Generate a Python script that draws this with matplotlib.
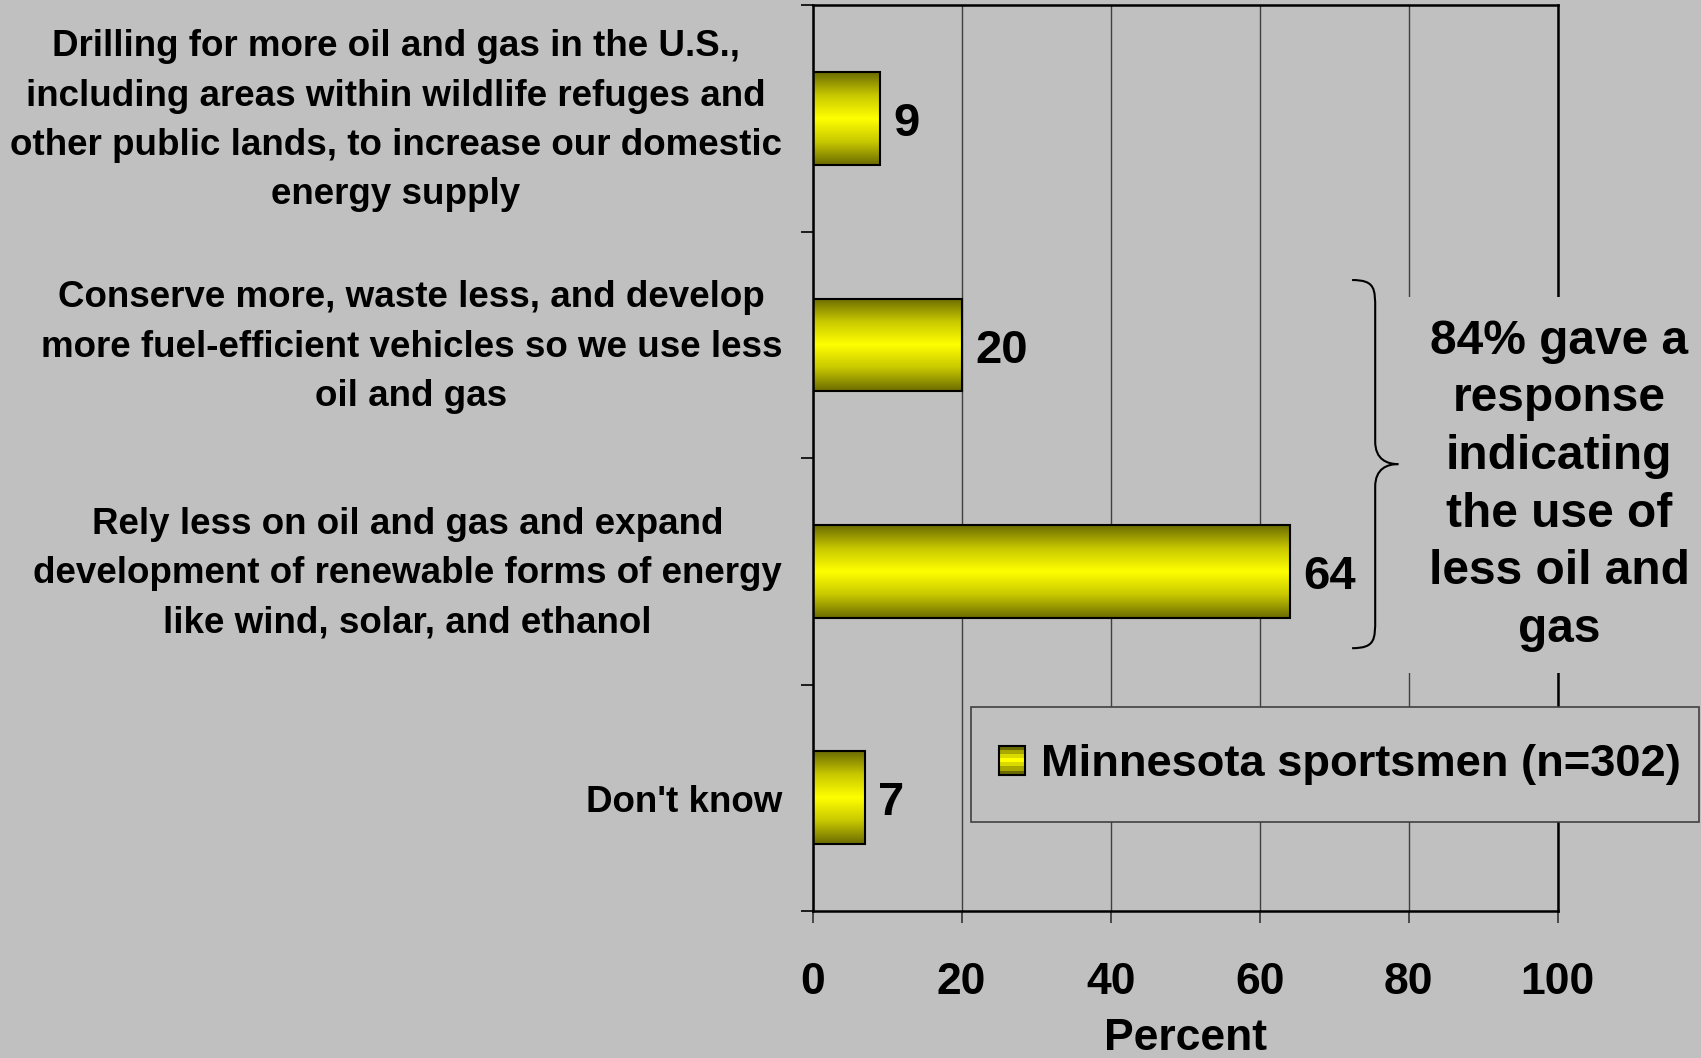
import numpy as np
import matplotlib.pyplot as plt
from matplotlib.colors import LinearSegmentedColormap
from matplotlib.patches import Rectangle, PathPatch
from matplotlib.path import Path
from matplotlib.legend_handler import HandlerBase

# dados
categorias = [
    "Drilling for more oil and gas in the U.S.,\nincluding areas within wildlife refuges and\nother public lands, to increase our domestic\nenergy supply",
    "Conserve more, waste less, and develop\nmore fuel-efficient vehicles so we use less\noil and gas",
    "Rely less on oil and gas and expand\ndevelopment of renewable forms of energy\nlike wind, solar, and ethanol",
    "Don't know",
]
valores = [9, 20, 64, 7]
xticks = [0, 20, 40, 60, 80, 100]
serie = "Minnesota sportsmen (n=302)"
nota = "84% gave a\nresponse\nindicating\nthe use of\nless oil and\ngas"

FUNDO = "#c0c0c0"
FONTE = "Liberation Sans"
cmap_barra = LinearSegmentedColormap.from_list(
    "amarelo", ["#6b6b00", "#c8c800", "#ffff00", "#c8c800", "#6b6b00"])


class HandlerGradiente(HandlerBase):
    """Quadradinho da legenda com faixas no mesmo degradê das barras."""
    def create_artists(self, legend, orig_handle, xdescent, ydescent,
                       width, height, fontsize, trans):
        artistas = []
        n = 7
        for i in range(n):
            cor = cmap_barra(i / (n - 1))
            artistas.append(Rectangle((-xdescent, -ydescent + i * height / n),
                                      width, height / n, facecolor=cor,
                                      edgecolor="none", transform=trans))
        artistas.append(Rectangle((-xdescent, -ydescent), width, height,
                                  facecolor="none", edgecolor="black",
                                  linewidth=1.5, transform=trans))
        return artistas


fig = plt.figure(figsize=(17.01, 10.58), dpi=100, facecolor=FUNDO)
ax = fig.add_axes([0.4777, 0.1389, 0.4381, 0.856], facecolor=FUNDO)

y = np.arange(len(categorias))
altura = 0.41
barras = ax.barh(y, valores, height=altura, facecolor="none",
                 edgecolor="black", linewidth=1.5, zorder=3)

# degradê vertical dentro de cada barra
grad = np.linspace(0, 1, 256).reshape(-1, 1)
for b in barras:
    x0, y0 = b.get_x(), b.get_y()
    w, h = b.get_width(), b.get_height()
    img = ax.imshow(grad, cmap=cmap_barra, aspect="auto",
                    extent=[x0, x0 + w, y0 + h, y0], zorder=2)
    img.set_clip_path(b)

for yi, v in zip(y, valores):
    ax.text(v + 1.8, yi + 0.025, str(v), va="center", ha="left", fontsize=34,
            fontweight="bold", family=FONTE, zorder=4)

# rótulos das categorias como texto (bloco centrado, alinhado à direita)
for yi, cat in zip(y, categorias):
    desloc = 0.01 if "\n" in cat else 0.02
    ax.text(-0.041, yi + desloc, cat, transform=ax.get_yaxis_transform(),
            ha="right", va="center", multialignment="center",
            fontsize=26.5, fontweight="bold", family=FONTE, linespacing=1.53)

ax.set_xlim(0, 100)
ax.set_ylim(len(categorias) - 0.5, -0.5)
ax.set_xticks(xticks)
ax.set_xticklabels([str(t) for t in xticks], fontsize=32, fontweight="bold",
                   family=FONTE)
ax.set_yticks(np.arange(len(categorias) + 1) - 0.5)
ax.set_yticklabels([])
ax.tick_params(axis="y", length=8.5, width=1.2, color="black",
               direction="out")
ax.tick_params(axis="x", length=8.5, width=1.2, color="#333333", pad=28)
ax.set_xlabel("Percent", fontsize=32, fontweight="bold", family=FONTE,
              labelpad=11)

ax.xaxis.grid(True, color="#404040", linewidth=1.0)
ax.set_axisbelow(True)
for s in ax.spines.values():
    s.set_linewidth(1.8)
    s.set_color("black")

# chave agrupando as respostas 2 e 3
xa, xm, xp = 72.4, 75.5, 78.6
ya, yc, yb = 0.713, 1.526, 2.339
r1, r2 = 0.13, 0.10
verts = [
    (xa, ya), (xm, ya), (xm, ya + r1 * 0.3), (xm, ya + r1),
    (xm, yc - r2),
    (xm, yc - r2 * 0.2), (xp - 1.5, yc), (xp, yc),
    (xp - 1.5, yc), (xm, yc + r2 * 0.2), (xm, yc + r2),
    (xm, yb - r1),
    (xm, yb - r1 * 0.3), (xm, yb), (xa, yb),
]
codes = [Path.MOVETO, Path.CURVE4, Path.CURVE4, Path.CURVE4,
         Path.LINETO,
         Path.CURVE4, Path.CURVE4, Path.CURVE4,
         Path.CURVE4, Path.CURVE4, Path.CURVE4,
         Path.LINETO,
         Path.CURVE4, Path.CURVE4, Path.CURVE4]
ax.add_patch(PathPatch(Path(verts, codes), facecolor="none", edgecolor="black",
                       linewidth=1.5, clip_on=False, zorder=5))

ax.text(100.2, 1.62, nota, ha="center", va="center", fontsize=34.5,
        fontweight="bold", family=FONTE, linespacing=1.36, zorder=4,
        clip_on=False,
        bbox=dict(boxstyle="square,pad=0.45", facecolor=FUNDO,
                  edgecolor="none"))

# moldura da legenda desenhada à parte (mais alta que larga no padding)
fig.patches.append(Rectangle((0.5708, 0.2231), 0.428, 0.1087,
                             transform=fig.transFigure, facecolor=FUNDO,
                             edgecolor="#404040", linewidth=1.2, zorder=1))
leg = fig.legend([barras[0]], [serie], loc="center",
                 bbox_to_anchor=(0.7877, 0.2770),
                 handler_map={type(barras[0]): HandlerGradiente()},
                 prop={"family": FONTE, "weight": "bold", "size": 32.6},
                 handlelength=0.58, handleheight=0.58, handletextpad=0.34,
                 borderpad=0.3, frameon=False)
leg.set_zorder(2)

fig.savefig("out.png", dpi=100, facecolor=FUNDO)
